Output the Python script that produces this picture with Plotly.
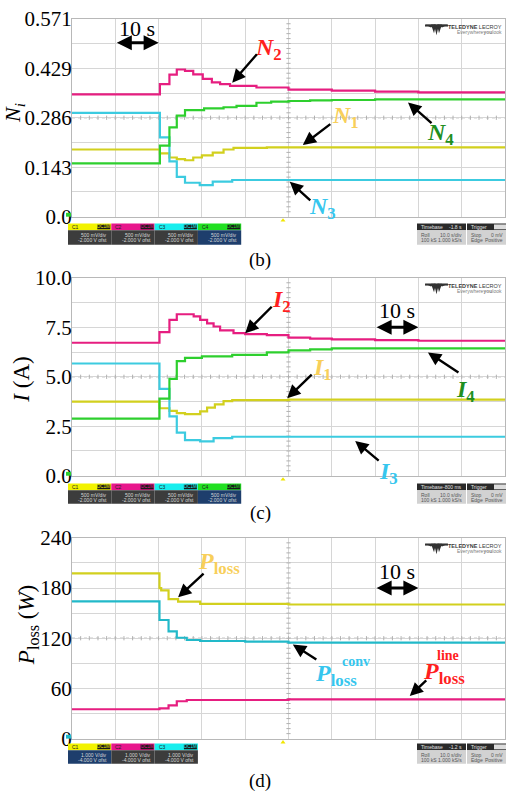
import numpy as np
import plotly.graph_objects as go

# ---------------- data (time in s, 10 s per division) ----------------
# (b) normalised shares N1..N4
n1_t = [0, 20.3, 22.5, 24.2, 26.1, 28, 30, 32.5, 35, 37.3, 45, 100]
n1_v = [0.194, 0.183, 0.171, 0.166, 0.163, 0.171, 0.177, 0.185, 0.194, 0.199, 0.200, 0.200]
n2_t = [0, 20.3, 22.5, 24.2, 26.1, 28, 30.2, 32.3, 34.2, 36.5, 42.6, 50, 60, 70, 80, 100]
n2_v = [0.353, 0.383, 0.410, 0.425, 0.421, 0.411, 0.398, 0.388, 0.383, 0.378, 0.373, 0.367,
        0.364, 0.361, 0.359, 0.357]
n3_t = [0, 20.3, 22.5, 24.2, 26.1, 29.5, 32.5, 37, 100]
n3_v = [0.300, 0.229, 0.160, 0.115, 0.098, 0.091, 0.101, 0.106, 0.106]
n4_t = [0, 20.3, 22.5, 24.2, 26.1, 30.5, 35, 38, 42.6, 46, 50, 55, 60, 70, 100]
n4_v = [0.154, 0.205, 0.258, 0.292, 0.308, 0.313, 0.316, 0.320, 0.329, 0.332, 0.334, 0.336,
        0.337, 0.339, 0.339]

# (c) currents I1..I4 in A
i1_t = [0, 20.2, 22.5, 24.2, 26.1, 29.6, 31.2, 33, 35, 37, 50, 100]
i1_v = [3.74, 3.41, 3.28, 3.16, 3.11, 3.25, 3.44, 3.61, 3.77, 3.82, 3.85, 3.82]
i2_t = [0, 20.2, 22.5, 24.2, 28.1, 29.6, 31.2, 32.7, 34.2, 37.3, 40, 45, 50, 55, 60, 70, 80, 100]
i2_v = [6.72, 7.26, 7.87, 8.16, 8.05, 7.87, 7.70, 7.54, 7.34, 7.21, 7.15, 7.10, 6.98, 6.93,
        6.89, 6.85, 6.82, 6.80]
i3_t = [0, 20.2, 22.5, 24.2, 26.1, 29.6, 32.7, 37, 100]
i3_v = [5.67, 4.39, 3.00, 2.18, 1.80, 1.74, 1.90, 1.97, 1.97]
i4_t = [0, 20.2, 22.5, 24.2, 26.1, 30, 37, 45, 50, 55, 60, 80, 100]
i4_v = [2.89, 3.90, 4.89, 5.79, 5.95, 6.03, 6.11, 6.23, 6.33, 6.38, 6.43, 6.43, 6.41]

# (d) losses in W
ptot_t = [0, 20.2, 20.6, 22.3, 24.5, 29.6, 50, 100]
ptot_v = [197.6, 180.0, 177.2, 166.8, 163.7, 161.0, 160.3, 160.3]
pline_t = [0, 20.2, 22.3, 24.2, 26.5, 50, 100]
pline_v = [35.1, 36.2, 39.7, 44.7, 46.2, 47.0, 47.4]
pconv_t = [0, 20.2, 22.3, 24.2, 26.5, 29.6, 40, 50, 100]
pconv_v = [164.1, 141.8, 128.3, 120.6, 117.9, 116.7, 116.0, 114.8, 114.8]

n_ticks = ["0.0", "0.143", "0.286", "0.429", "0.571"]
i_ticks = ["0.0", "2.5", "5.0", "7.5", "10.0"]
p_ticks = ["0", "60", "120", "180", "240"]

# ---------------- styling ----------------
W, H = 506, 804
LEFT, RIGHT = 72, 505
PANEL_PX = [(7, 211), (274, 478), (542, 749)]
GRID = "#d6d6d6"
BORDER = "#b8b8b8"
CENTER = "#9a9a9a"
SERIF = "'Times New Roman', 'Liberation Serif', Tinos, serif"
SANS = "Arial, 'Liberation Sans', sans-serif"

C_YEL = "#d2d01e"
C_MAG = "#e61e80"
C_CYA = "#3ccbe0"
C_CYA3 = "#22b9c9"
C_GRN = "#2ecf2e"


def fx(x):
    return x / W


def fy(y):
    return 1 - y / H


fig = go.Figure()

panels = [
    dict(ymax=4 / 7, ticks=n_ticks,
         series=[(n1_t, n1_v, C_YEL), (n2_t, n2_v, C_MAG), (n3_t, n3_v, C_CYA), (n4_t, n4_v, C_GRN)]),
    dict(ymax=10.0, ticks=i_ticks,
         series=[(i1_t, i1_v, C_YEL), (i2_t, i2_v, C_MAG), (i3_t, i3_v, C_CYA), (i4_t, i4_v, C_GRN)]),
    dict(ymax=240.0, ticks=p_ticks,
         series=[(ptot_t, ptot_v, C_YEL), (pline_t, pline_v, C_MAG), (pconv_t, pconv_v, C_CYA3)]),
]

shapes = []
annotations = []

for k, p in enumerate(panels, start=1):
    sfx = "" if k == 1 else str(k)
    top, bot = PANEL_PX[k - 1]
    ymax = p["ymax"]
    div = ymax / 8
    fig.update_layout({
        f"xaxis{sfx}": dict(domain=[fx(LEFT), fx(RIGHT)], range=[0, 100], anchor=f"y{sfx}",
                            showticklabels=False, ticks="", dtick=10, tick0=0, showgrid=True,
                            gridcolor=GRID, gridwidth=1, zeroline=False, showline=True,
                            mirror=True, linecolor=BORDER, linewidth=1, fixedrange=True),
        f"yaxis{sfx}": dict(domain=[fy(bot), fy(top)], range=[0, ymax], anchor=f"x{sfx}",
                            tickmode="array", tickvals=[div * j for j in range(0, 9, 2)],
                            ticktext=p["ticks"], ticks="", showgrid=True, gridcolor=GRID,
                            minor=dict(tickvals=[div * j for j in range(1, 8, 2)], showgrid=True,
                                       gridcolor=GRID, ticks=""),
                            ticklabelstandoff=-5,
                            zeroline=False, showline=True, mirror=True, linecolor=BORDER,
                            linewidth=1, tickfont=dict(family=SERIF, size=21, color="black"),
                            fixedrange=True),
    })
    # dotted centre cross of the scope graticule
    shapes.append(dict(type="line", xref=f"x{sfx}", yref=f"y{sfx}", x0=50, x1=50, y0=0, y1=ymax,
                       line=dict(color=CENTER, width=1, dash="dot"), layer="below"))
    shapes.append(dict(type="line", xref=f"x{sfx}", yref=f"y{sfx}", x0=0, x1=100, y0=ymax / 2,
                       y1=ymax / 2, line=dict(color=CENTER, width=1, dash="dot"), layer="below"))
    # minor tick marks on the centre cross
    fig.add_trace(go.Scatter(x=np.arange(2, 100, 2), y=np.full(49, ymax / 2), mode="markers",
                             marker=dict(symbol="line-ns", size=3, line=dict(color="#b0b0b0", width=1)),
                             xaxis=f"x{sfx}", yaxis=f"y{sfx}", hoverinfo="skip", showlegend=False))
    fig.add_trace(go.Scatter(x=np.full(39, 50.0), y=np.arange(1, 40) * ymax / 40, mode="markers",
                             marker=dict(symbol="line-ew", size=3, line=dict(color="#b0b0b0", width=1)),
                             xaxis=f"x{sfx}", yaxis=f"y{sfx}", hoverinfo="skip", showlegend=False))
    for t, v, col in p["series"]:
        fig.add_trace(go.Scatter(x=t, y=v, mode="lines", line=dict(color=col, width=2.2, shape="hv"),
                                 xaxis=f"x{sfx}", yaxis=f"y{sfx}", hoverinfo="skip", showlegend=False))

    # Teledyne LeCroy logo in the upper-right corner
    lx, ly = 425, top + 5
    for dxa, dxb, tip_x, tip_y in [(0, 10, 6, 4), (13, 23, 17, 4), (6, 11, 9, 10), (12, 17, 14, 10),
                                   (9, 14, 11.5, 12)]:
        shapes.append(dict(type="path", xref="paper", yref="paper",
                           path=f"M {fx(lx + dxa)},{fy(ly + 1)} L {fx(lx + dxb)},{fy(ly + 1)} "
                                f"L {fx(lx + tip_x)},{fy(ly + tip_y)} Z",
                           fillcolor="#333333", line=dict(width=0)))
    shapes.append(dict(type="rect", xref="paper", yref="paper", x0=fx(lx), x1=fx(lx + 23),
                       y0=fy(ly + 3), y1=fy(ly + 1), fillcolor="#333333", line=dict(width=0)))
    annotations.append(dict(xref="paper", yref="paper", x=fx(504), y=fy(ly + 3), xanchor="right",
                            yanchor="middle", showarrow=False,
                            text="<b>TELEDYNE</b> LECROY",
                            font=dict(family=SANS, size=5.5, color="#3a3a3a")))
    annotations.append(dict(xref="paper", yref="paper", x=fx(504), y=fy(ly + 8.5), xanchor="right",
                            yanchor="middle", showarrow=False,
                            text="Everywhere<b>you</b>look",
                            font=dict(family=SANS, size=5, color="#808080")))

    # trigger and ground markers
    tx = 283
    shapes.append(dict(type="path", xref="paper", yref="paper",
                       path=f"M {fx(tx - 2.5)},{fy(bot + 5)} L {fx(tx + 2.5)},{fy(bot + 5)} "
                            f"L {fx(tx)},{fy(bot + 1.5)} Z",
                       fillcolor="#f2e600", line=dict(width=0)))
    gcol = C_GRN if k < 3 else C_CYA3
    shapes.append(dict(type="rect", xref="paper", yref="paper", x0=fx(66), x1=fx(71),
                       y0=fy(bot), y1=fy(bot - 4), fillcolor=gcol, line=dict(width=0)))

# ---------------- scope information strips ----------------
STRIPS = [
    dict(y0=218, y1=240, vdiv="500 mV/div", ofst="-2.000 V ofst", tb="-1.8 s",
         low=["#3c3c3c", "#3c3c3c", "#3c3c3c", "#1e3e6c"]),
    dict(y0=486, y1=507, vdiv="500 mV/div", ofst="-2.000 V ofst", tb="-800 ms",
         low=["#3c3c3c", "#3c3c3c", "#3c3c3c", "#1e3e6c"]),
    dict(y0=754, y1=775, vdiv="1.000 V/div", ofst="-4.000 V ofst", tb="-1.2 s",
         low=["#1e3e6c", "#3c3c3c", "#3c3c3c"]),
]
HEAD = ["#f2f200", "#e8168c", "#18eeee", "#22e022"]
TAGTXT = ["#f2f200", "#e8168c", "#18eeee", "#22e022"]


def box(x0, x1, y0, y1, fill, line=None):
    shapes.append(dict(type="rect", xref="paper", yref="paper", x0=fx(x0), x1=fx(x1),
                       y0=fy(y1), y1=fy(y0), fillcolor=fill,
                       line=dict(width=0.6 if line else 0, color=line or fill)))


def tiny(x, y, text, color, anchor="left", size=5):
    annotations.append(dict(xref="paper", yref="paper", x=fx(x), y=fy(y), xanchor=anchor,
                            yanchor="middle", showarrow=False, text=text,
                            font=dict(family=SANS, size=size, color=color)))


for s in STRIPS:
    y0, y1 = s["y0"], s["y1"]
    hb = y0 + 7
    for j, low in enumerate(s["low"]):
        bx0 = 68 + 43.3 * j
        bx1 = bx0 + 43.3
        box(bx0, bx1, y0, hb, HEAD[j])
        box(bx1 - 14, bx1 - 1, y0 + 1, hb - 1, "#1a1a1a")
        box(bx0, bx1, hb, y1, low)
        tiny(bx0 + 2, (y0 + hb) / 2, f"C{j + 1}", "#222222")
        tiny(bx1 - 7.5, (y0 + hb) / 2, "DC1M", TAGTXT[j], anchor="center", size=4.5)
        tiny(bx1 - 2, hb + 4.5, s["vdiv"], "#d8d8d8", anchor="right")
        tiny(bx1 - 2, hb + 10.5, s["ofst"], "#d8d8d8", anchor="right")
    # timebase / trigger panels
    box(417, 466, y0, hb, "#2a2a2a")
    box(417, 466, hb, y1, "#d2d2d2")
    box(467, 506, y0, hb, "#2a2a2a")
    box(467, 506, hb, y1, "#d2d2d2")
    box(494, 506, y0 + 1, hb - 1, "#dcdcdc")
    tiny(419, (y0 + hb) / 2, "Timebase", "#e0e0e0")
    tiny(464, (y0 + hb) / 2, s["tb"], "#e0e0e0", anchor="right")
    tiny(419, hb + 4.5, "Roll", "#555555")
    tiny(464, hb + 4.5, "10.0 s/div", "#555555", anchor="right")
    tiny(419, hb + 10.5, "100 kS", "#555555")
    tiny(464, hb + 10.5, "1.000 kS/s", "#555555", anchor="right")
    tiny(469, (y0 + hb) / 2, "Trigger", "#e0e0e0")
    tiny(469, hb + 4.5, "Stop", "#555555")
    tiny(505, hb + 4.5, "0 mV", "#555555", anchor="right")
    tiny(469, hb + 10.5, "Edge", "#555555")
    tiny(505, hb + 10.5, "Positive", "#555555", anchor="right")

# ---------------- text, labels and arrows ----------------


def label(x, y, text, color, size=24, angle=0):
    annotations.append(dict(xref="paper", yref="paper", x=fx(x), y=fy(y), xanchor="center",
                            yanchor="middle", showarrow=False, text=text, textangle=angle,
                            font=dict(family=SERIF, size=size, color=color)))


def pointer(k, t, v, ax, ay):
    sfx = "" if k == 1 else str(k)
    annotations.append(dict(xref=f"x{sfx}", yref=f"y{sfx}", x=t, y=v, ax=ax, ay=ay, text="",
                            showarrow=True, arrowhead=2, arrowsize=1.1, arrowwidth=2.4,
                            arrowcolor="black"))


def span(k, t0, t1, v):
    sfx = "" if k == 1 else str(k)
    annotations.append(dict(xref=f"x{sfx}", yref=f"y{sfx}", axref=f"x{sfx}", ayref=f"y{sfx}",
                            x=t1, y=v, ax=t0, ay=v, text="", showarrow=True, arrowhead=2,
                            startarrowhead=2, arrowside="end+start", arrowsize=1.0,
                            startarrowsize=1.0, arrowwidth=3, arrowcolor="black"))


# axis titles
label(14, 104, "<i>N<sub>i</sub></i>", "black", size=22, angle=-90)
label(22, 379, "<i>I</i> (A)", "black", size=23, angle=-90)
label(28, 632, "<i>P</i><sub>loss</sub> (<i>W</i>)", "black", size=23, angle=-90)

# panel captions
label(260, 256, "(b)", "black", size=19)
label(260, 516, "(c)", "black", size=19)
label(260, 793, "(d)", "black", size=19)

# 10 s scale bars
span(1, 10, 20, 0.502)
label(137, 17, "10 s", "black", size=22)
span(2, 70, 80, 7.5)
label(397, 308, "10 s", "black", size=22)
span(3, 70, 80, 180)
label(397, 577, "10 s", "black", size=22)

RED = "#ff1f1f"
YEL_T = "#f8cf5a"
GRN_T = "#1f8f1f"
CYA_T = "#36c6ee"

# (b)
label(268, 38, "<b><i>N</i><sub>2</sub></b>", RED)
pointer(1, 37.0, 0.387, 26, -30)
label(345, 108, "<b><i>N</i><sub>1</sub></b>", YEL_T)
pointer(1, 53.3, 0.207, 29, -22)
label(440, 126, "<b><i>N</i><sub>4</sub></b>", GRN_T)
pointer(1, 77.6, 0.330, 25, 22)
label(322, 202, "<b><i>N</i><sub>3</sub></b>", CYA_T)
pointer(1, 50.3, 0.101, 22, 20)

# (c)
label(281, 298, "<b><i>I</i><sub>2</sub></b>", RED)
pointer(2, 40.0, 7.20, 28, -28)
label(322, 368, "<b><i>I</i><sub>1</sub></b>", YEL_T)
pointer(2, 49.7, 3.92, 26, -25)
label(465, 391, "<b><i>I</i><sub>4</sub></b>", GRN_T)
pointer(2, 82.2, 6.23, 32, 21)
label(388, 475, "<b><i>I</i><sub>3</sub></b>", CYA_T)
pointer(2, 65.4, 1.76, 25, 21)

# (d)
label(219, 568, "<b><i>P</i><sub>loss</sub></b>", YEL_T)
pointer(3, 24.5, 168.9, 27, -25)
label(336, 683, "<b><i>P</i><sub>loss</sub></b>", CYA_T)
label(356, 669, "<b>conv</b>", CYA_T, size=14)
pointer(3, 51.0, 112.5, 25, 16)
label(444, 681, "<b><i>P</i><sub>loss</sub></b>", RED)
label(448, 663, "<b>line</b>", RED, size=14)
pointer(3, 78.0, 50.9, 18, -17)

fig.update_layout(
    width=W, height=H,
    margin=dict(l=0, r=0, t=0, b=0),
    paper_bgcolor="white", plot_bgcolor="white",
    showlegend=False,
    shapes=shapes,
    annotations=annotations,
)

fig.write_html("out.html")
